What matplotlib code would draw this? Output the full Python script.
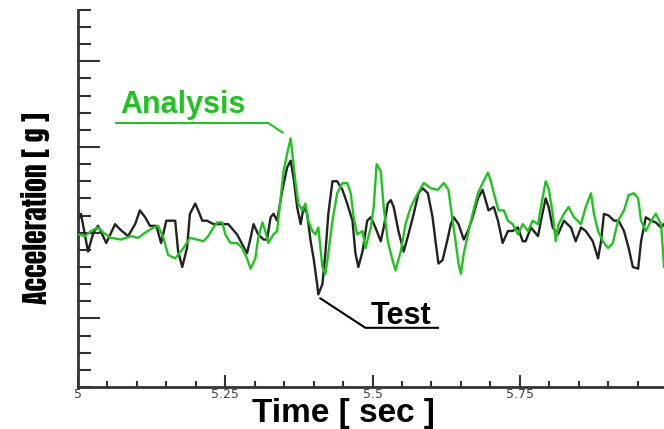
import numpy as np
import matplotlib
matplotlib.use("Agg")
import matplotlib.pyplot as plt
from matplotlib import font_manager

# measured response (black)
test_t = [5.000, 5.005, 5.017, 5.026, 5.034, 5.048, 5.063, 5.071, 5.085, 5.097,
          5.105, 5.114, 5.122, 5.133, 5.141, 5.150, 5.165, 5.170, 5.177, 5.185,
          5.190, 5.199, 5.204, 5.211, 5.219, 5.230, 5.255, 5.270, 5.287, 5.293,
          5.298, 5.306, 5.315, 5.321, 5.327, 5.332, 5.338, 5.347, 5.355, 5.361,
          5.366, 5.372, 5.378, 5.383, 5.389, 5.395, 5.400, 5.406, 5.408, 5.415,
          5.420, 5.425, 5.432, 5.440, 5.449, 5.457, 5.466, 5.471, 5.476, 5.483,
          5.491, 5.497, 5.505, 5.514, 5.519, 5.526, 5.531, 5.536, 5.544, 5.553,
          5.561, 5.570, 5.578, 5.585, 5.594, 5.602, 5.607, 5.612, 5.619, 5.628,
          5.633, 5.638, 5.646, 5.655, 5.662, 5.670, 5.679, 5.687, 5.692, 5.697,
          5.706, 5.713, 5.721, 5.730, 5.738, 5.747, 5.755, 5.760, 5.769, 5.781,
          5.786, 5.794, 5.799, 5.806, 5.815, 5.825, 5.837, 5.845, 5.854, 5.862,
          5.874, 5.883, 5.888, 5.893, 5.901, 5.910, 5.918, 5.927, 5.935, 5.942,
          5.951, 5.956, 5.964, 5.973, 5.981, 5.990, 5.995]
test_g = [0.07, 0.11, -0.11, 0.00, 0.04, -0.06, 0.05, 0.02, -0.02, 0.05,
          0.13, 0.09, 0.04, 0.04, -0.06, 0.07, 0.07, -0.11, -0.20, -0.09,
          0.11, 0.17, 0.13, 0.07, 0.07, 0.05, 0.05, -0.01, -0.12, -0.03,
          0.05, -0.01, -0.04, -0.04, 0.09, 0.11, 0.07, 0.25, 0.38, 0.42,
          0.32, 0.15, 0.05, 0.15, 0.11, -0.05, -0.15, -0.30, -0.36, -0.30,
          -0.12, 0.11, 0.30, 0.30, 0.25, 0.17, 0.07, -0.12, -0.20, -0.11,
          0.07, 0.09, 0.03, -0.05, 0.03, 0.17, 0.19, 0.15, 0.01, -0.11,
          -0.01, 0.11, 0.23, 0.26, 0.23, 0.09, -0.05, -0.18, -0.16, -0.03,
          0.05, 0.09, 0.05, -0.04, 0.01, 0.09, 0.20, 0.25, 0.19, 0.13,
          0.15, 0.07, -0.06, 0.01, 0.01, 0.03, -0.05, -0.05, 0.03, -0.02,
          0.07, 0.20, 0.15, 0.03, -0.01, 0.07, 0.03, -0.05, 0.03, 0.01,
          -0.05, -0.15, -0.05, 0.11, 0.10, 0.07, 0.07, 0.01, -0.09, -0.20,
          -0.21, -0.05, 0.09, 0.07, 0.06, 0.03, 0.05]

# simulated response (green)
ana_t = [5.000, 5.012, 5.022, 5.034, 5.043, 5.056, 5.073, 5.090, 5.102, 5.114,
         5.128, 5.136, 5.145, 5.153, 5.165, 5.179, 5.190, 5.202, 5.213, 5.221,
         5.230, 5.236, 5.245, 5.250, 5.259, 5.270, 5.279, 5.287, 5.293, 5.301,
         5.306, 5.313, 5.318, 5.323, 5.332, 5.338, 5.344, 5.349, 5.355, 5.361,
         5.364, 5.369, 5.374, 5.381, 5.386, 5.391, 5.398, 5.403, 5.408, 5.415,
         5.420, 5.425, 5.432, 5.440, 5.449, 5.457, 5.463, 5.468, 5.474, 5.483,
         5.488, 5.497, 5.502, 5.507, 5.514, 5.519, 5.526, 5.534, 5.539, 5.548,
         5.556, 5.565, 5.577, 5.587, 5.599, 5.611, 5.621, 5.629, 5.636, 5.641,
         5.646, 5.650, 5.655, 5.662, 5.670, 5.679, 5.687, 5.696, 5.701, 5.706,
         5.714, 5.723, 5.730, 5.738, 5.747, 5.755, 5.764, 5.772, 5.781, 5.786,
         5.794, 5.799, 5.806, 5.811, 5.816, 5.825, 5.833, 5.842, 5.854, 5.862,
         5.871, 5.876, 5.883, 5.891, 5.900, 5.908, 5.917, 5.927, 5.935, 5.944,
         5.951, 5.956, 5.964, 5.973, 5.981, 5.990, 5.995]
ana_g = [-0.01, -0.02, 0.01, 0.03, 0.00, -0.03, -0.04, -0.02, -0.03, 0.00,
         0.03, 0.04, -0.03, -0.13, -0.15, -0.09, -0.03, -0.04, -0.05, -0.02,
         0.03, 0.06, 0.06, -0.01, -0.06, -0.06, -0.09, -0.15, -0.21, -0.15,
         -0.03, 0.06, 0.01, -0.06, -0.01, 0.01, 0.20, 0.36, 0.46, 0.55,
         0.46, 0.30, 0.17, 0.13, 0.17, 0.07, 0.01, -0.01, 0.03, -0.20,
         -0.24, -0.12, 0.07, 0.23, 0.29, 0.29, 0.23, 0.09, -0.01, 0.01,
         -0.09, 0.03, 0.15, 0.40, 0.36, 0.15, -0.05, -0.16, -0.22, -0.11,
         0.05, 0.15, 0.23, 0.29, 0.26, 0.25, 0.29, 0.25, 0.07, -0.05,
         -0.18, -0.24, -0.12, -0.01, 0.11, 0.23, 0.29, 0.35, 0.30, 0.23,
         0.13, 0.13, 0.07, 0.05, -0.01, 0.05, 0.01, 0.07, 0.05, 0.15,
         0.30, 0.26, 0.11, -0.05, 0.05, 0.11, 0.15, 0.09, 0.05, 0.15,
         0.23, 0.11, 0.01, -0.05, -0.09, -0.06, 0.07, 0.13, 0.22, 0.23,
         0.20, 0.07, 0.01, 0.07, 0.11, 0.05, -0.20]

xticks = [5, 5.25, 5.5, 5.75, 6]
xtick_labels = ["5", "5.25", "5.5", "5.75", "6"]

GREEN = "#1fc41f"
DARK = "#222222"


def pick_font(candidates):
    # first face from the list that is actually installed
    have = {f.name for f in font_manager.fontManager.ttflist}
    for name in candidates:
        if name in have:
            return name
    return "DejaVu Sans"


narrow = pick_font(["Anton", "Oswald", "Fjalla One", "Liberation Sans Narrow"])
bold_fam = ["Liberation Sans", "DejaVu Sans"]

fig = plt.figure(figsize=(6.64, 4.29), dpi=100)
ax = fig.add_axes([0.1175, 0.098, 0.887, 0.879])

ax.plot(test_t, test_g, color=DARK, lw=1.7, zorder=2)
ax.plot(ana_t, ana_g, color=GREEN, lw=1.7, zorder=3)

ax.set_xlim(5, 6)
ax.set_ylim(-0.9, 1.3)

ax.spines["top"].set_visible(False)
ax.spines["right"].set_visible(False)
for s in ("left", "bottom"):
    ax.spines[s].set_color("#333333")
    ax.spines[s].set_linewidth(2)

ax.set_xticks(xticks)
ax.set_xticklabels(xtick_labels, fontsize=9, color="#444444")
ax.set_xticks(np.arange(5, 6.001, 0.05), minor=True)
ax.set_yticks([-0.5, 0, 0.5, 1.0])
ax.set_yticklabels([])
ax.set_yticks(np.arange(-0.9, 1.301, 0.1), minor=True)
ax.tick_params(axis="x", which="major", direction="in", length=9, width=1.5,
               color="#333333", pad=1)
ax.tick_params(axis="x", which="minor", direction="in", length=4, width=1.5,
               color="#333333")
ax.tick_params(axis="y", which="major", direction="in", length=16, width=1.5,
               color="#333333")
ax.tick_params(axis="y", which="minor", direction="in", length=9, width=1.5,
               color="#333333")

fig.text(0.053, 0.515, "Acceleration [ g ]", rotation=90, ha="center", va="center",
         fontsize=20, family=[narrow, "DejaVu Sans"], color="black")
fig.text(0.517, 0.016, "Time [ sec ]", ha="center", va="baseline",
         fontsize=24, fontweight="bold", family=bold_fam, color="black")

# callouts
ax.text(5.0714, 0.70, "Analysis", fontsize=22, fontweight="bold",
        family=bold_fam, color=GREEN, ha="left", va="baseline")
ax.plot([5.063, 5.323, 5.349], [0.64, 0.64, 0.58], color=GREEN, lw=1.5,
        solid_capstyle="butt")
ax.text(5.4966, -0.531, "Test", fontsize=22, fontweight="bold",
        family=bold_fam, color="black", ha="left", va="baseline")
ax.plot([5.410, 5.488, 5.613], [-0.38, -0.555, -0.555], color="black", lw=1.5,
        solid_capstyle="butt")

fig.savefig("out.png", dpi=100)
